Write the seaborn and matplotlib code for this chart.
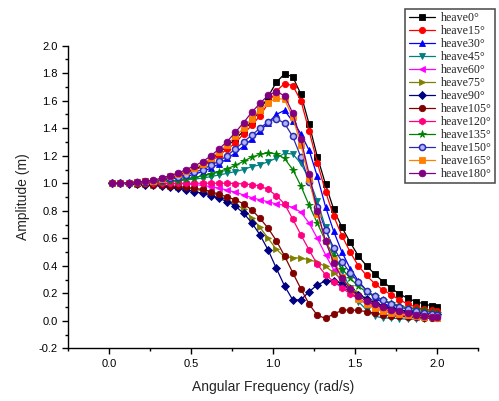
import matplotlib
matplotlib.use('Agg')
import matplotlib.pyplot as plt
from matplotlib.ticker import MultipleLocator, FormatStrFormatter
import numpy as np
import pandas as pd
import seaborn as sns

# frequency grid (rad/s)
freq = [0.02, 0.07, 0.12, 0.17, 0.22, 0.27, 0.32, 0.37, 0.42, 0.47,
        0.52, 0.57, 0.62, 0.67, 0.72, 0.77, 0.82, 0.87, 0.92, 0.97,
        1.02, 1.07, 1.12, 1.17, 1.22, 1.27, 1.32, 1.37, 1.42, 1.47,
        1.52, 1.57, 1.62, 1.67, 1.72, 1.77, 1.82, 1.87, 1.92, 1.97, 2.00]

heave0 = [1.0, 1.0, 1.004, 1.008, 1.013, 1.02, 1.03, 1.045, 1.06, 1.08,
          1.10, 1.13, 1.17, 1.22, 1.27, 1.32, 1.38, 1.45, 1.53, 1.63,
          1.734, 1.795, 1.775, 1.647, 1.43, 1.193, 0.993, 0.81, 0.68, 0.571,
          0.472, 0.40, 0.34, 0.285, 0.237, 0.196, 0.164, 0.14, 0.123, 0.108, 0.099]
heave15 = [1.0, 1.0, 1.003, 1.007, 1.012, 1.018, 1.027, 1.04, 1.055, 1.075,
           1.095, 1.12, 1.16, 1.20, 1.25, 1.29, 1.36, 1.42, 1.49, 1.58,
           1.67, 1.725, 1.71, 1.60, 1.38, 1.15, 0.94, 0.76, 0.62, 0.50,
           0.40, 0.33, 0.27, 0.225, 0.19, 0.153, 0.123, 0.10, 0.084, 0.075, 0.07]
heave30 = [1.0, 1.0, 1.002, 1.005, 1.008, 1.013, 1.02, 1.03, 1.04, 1.05,
           1.065, 1.085, 1.11, 1.14, 1.18, 1.22, 1.27, 1.32, 1.38, 1.44,
           1.50, 1.53, 1.45, 1.36, 1.24, 1.05, 0.83, 0.65, 0.50, 0.38,
           0.29, 0.22, 0.17, 0.13, 0.10, 0.08, 0.065, 0.055, 0.045, 0.04, 0.035]
heave45 = [1.0, 1.0, 1.0, 1.002, 1.004, 1.007, 1.01, 1.014, 1.018, 1.024,
           1.03, 1.038, 1.048, 1.06, 1.072, 1.085, 1.10, 1.121, 1.134, 1.157,
           1.182, 1.218, 1.213, 1.145, 1.03, 0.87, 0.68, 0.50, 0.36, 0.24,
           0.14, 0.08, 0.035, 0.02, 0.02, 0.015, 0.012, 0.012, 0.015, 0.02, 0.022]
heave60 = [1.0, 1.0, 1.0, 1.0, 1.0, 0.999, 0.998, 0.997, 0.996, 0.995,
           0.99, 0.985, 0.975, 0.965, 0.95, 0.935, 0.915, 0.895, 0.88, 0.865,
           0.85, 0.84, 0.825, 0.79, 0.71, 0.60, 0.48, 0.37, 0.28, 0.21,
           0.16, 0.12, 0.09, 0.07, 0.055, 0.045, 0.035, 0.03, 0.025, 0.02, 0.02]
heave75 = [1.0, 1.0, 1.0, 0.998, 0.995, 0.99, 0.985, 0.978, 0.972, 0.965,
           0.957, 0.945, 0.93, 0.91, 0.88, 0.85, 0.81, 0.75, 0.68, 0.60,
           0.52, 0.465, 0.46, 0.455, 0.445, 0.425, 0.395, 0.35, 0.30, 0.25,
           0.20, 0.16, 0.13, 0.10, 0.08, 0.065, 0.05, 0.045, 0.04, 0.035, 0.03]
heave90 = [1.0, 1.0, 0.998, 0.995, 0.99, 0.985, 0.978, 0.972, 0.964, 0.952,
           0.94, 0.927, 0.908, 0.891, 0.867, 0.835, 0.782, 0.714, 0.625, 0.515,
           0.382, 0.254, 0.152, 0.152, 0.212, 0.261, 0.29, 0.29, 0.27, 0.23,
           0.19, 0.16, 0.13, 0.11, 0.09, 0.08, 0.07, 0.06, 0.055, 0.05, 0.048]
heave105 = [1.0, 1.0, 1.0, 0.998, 0.995, 0.99, 0.987, 0.982, 0.977, 0.97,
            0.963, 0.955, 0.94, 0.92, 0.90, 0.88, 0.85, 0.806, 0.746, 0.673,
            0.583, 0.472, 0.35, 0.232, 0.121, 0.04, 0.018, 0.05, 0.075, 0.08,
            0.075, 0.067, 0.056, 0.045, 0.038, 0.032, 0.028, 0.025, 0.022, 0.02, 0.02]
heave120 = [1.0, 1.0, 1.0, 1.0, 1.0, 1.0, 1.0, 1.0, 1.0, 1.0,
            1.0, 1.0, 1.0, 1.0, 1.0, 0.998, 0.995, 0.99, 0.98, 0.955,
            0.91, 0.85, 0.74, 0.625, 0.515, 0.41, 0.335, 0.285, 0.24, 0.195,
            0.16, 0.13, 0.105, 0.085, 0.07, 0.06, 0.05, 0.04, 0.035, 0.03, 0.03]
heave135 = [1.0, 1.0, 1.0, 1.002, 1.004, 1.007, 1.01, 1.015, 1.02, 1.03,
            1.04, 1.055, 1.07, 1.085, 1.105, 1.13, 1.16, 1.19, 1.21, 1.22,
            1.215, 1.18, 1.10, 0.98, 0.84, 0.71, 0.58, 0.47, 0.38, 0.31,
            0.25, 0.21, 0.18, 0.15, 0.13, 0.11, 0.095, 0.085, 0.075, 0.065, 0.06]
heave150 = [1.0, 1.0, 1.003, 1.006, 1.01, 1.016, 1.025, 1.035, 1.048, 1.062,
            1.08, 1.10, 1.13, 1.16, 1.20, 1.25, 1.30, 1.35, 1.40, 1.448,
            1.47, 1.436, 1.34, 1.19, 1.01, 0.83, 0.66, 0.53, 0.43, 0.35,
            0.28, 0.22, 0.18, 0.15, 0.12, 0.10, 0.085, 0.07, 0.06, 0.05, 0.045]
heave165 = [1.0, 1.0, 1.004, 1.008, 1.013, 1.02, 1.032, 1.05, 1.065, 1.09,
            1.11, 1.14, 1.18, 1.23, 1.28, 1.34, 1.40, 1.47, 1.53, 1.586,
            1.617, 1.61, 1.48, 1.28, 1.03, 0.78, 0.58, 0.44, 0.32, 0.23,
            0.16, 0.12, 0.09, 0.07, 0.06, 0.05, 0.04, 0.035, 0.03, 0.025, 0.02]
heave180 = [1.0, 1.0, 1.005, 1.01, 1.015, 1.024, 1.036, 1.056, 1.073, 1.10,
            1.125, 1.157, 1.198, 1.249, 1.303, 1.37, 1.44, 1.516, 1.58, 1.64,
            1.666, 1.637, 1.51, 1.32, 1.066, 0.80, 0.58, 0.42, 0.31, 0.23,
            0.18, 0.145, 0.12, 0.10, 0.08, 0.068, 0.056, 0.045, 0.036, 0.03, 0.027]

labels = ['heave0°', 'heave15°', 'heave30°', 'heave45°', 'heave60°', 'heave75°', 'heave90°',
          'heave105°', 'heave120°', 'heave135°', 'heave150°', 'heave165°', 'heave180°']
series = [heave0, heave15, heave30, heave45, heave60, heave75, heave90,
          heave105, heave120, heave135, heave150, heave165, heave180]

# cores e marcadores estilo Origin
cores = ['#000000', '#ff0000', '#0000ff', '#008080', '#ff00ff', '#808000', '#000080',
         '#800000', '#ff0080', '#008000', '#2b2bb0', '#ff8000', '#800080']
marcadores = ['s', 'o', '^', 'v', '<', '>', 'D', 'o', 'h', '*', 'o', 's', 'o']
tamanhos = [4.0, 4.5, 4.6, 4.6, 4.6, 4.6, 3.8, 4.6, 4.8, 5.5, 4.4, 4.2, 4.8]

sns.set_style('ticks')
plt.rcParams['font.family'] = ['Liberation Sans', 'DejaVu Sans']

fig = plt.figure(figsize=(4.99, 4.01), dpi=100)
ax = fig.add_axes([0.1363, 0.1314, 0.8217, 0.7546])

for lab, ys, c, m, ms in zip(labels, series, cores, marcadores, tamanhos):
    df = pd.DataFrame({'w': freq, 'amp': ys})
    mfc = '#b0b4ff' if lab == 'heave150°' else c
    sns.lineplot(data=df, x='w', y='amp', ax=ax, color=c, marker=m, markersize=ms,
                 markerfacecolor=mfc, markeredgecolor=c, markeredgewidth=1.1 if lab == 'heave150°' else 0.6,
                 linewidth=0.9, label=lab)

ax.set_xlim(-0.25, 2.25)
ax.set_ylim(-0.2, 2.0)
ax.xaxis.set_major_locator(MultipleLocator(0.5))
ax.xaxis.set_minor_locator(MultipleLocator(0.25))
ax.yaxis.set_major_locator(MultipleLocator(0.2))
ax.yaxis.set_minor_locator(MultipleLocator(0.1))
ax.xaxis.set_major_formatter(FormatStrFormatter('%.1f'))
ax.yaxis.set_major_formatter(FormatStrFormatter('%.1f'))
ax.tick_params(which='major', direction='out', length=4, width=1, labelsize=8, colors='black')
ax.tick_params(which='minor', direction='out', length=2.5, width=1, colors='black')
for s in ['top', 'right']:
    ax.spines[s].set_visible(False)
for s in ['left', 'bottom']:
    ax.spines[s].set_linewidth(1.0)
    ax.spines[s].set_color('black')

ax.set_xlabel('Angular Frequency (rad/s)', fontsize=10, labelpad=8)
ax.set_ylabel('Amplitude (m)', fontsize=10, labelpad=6)

leg = ax.legend(loc='upper left', bbox_to_anchor=(0.812, 0.978), bbox_transform=fig.transFigure,
                prop={'family': 'Liberation Serif', 'size': 8.6}, frameon=True, fancybox=False,
                framealpha=1, edgecolor='#555555', handlelength=2.2, handletextpad=0.5,
                labelspacing=0.08, borderpad=0.3, borderaxespad=0)
leg.get_frame().set_linewidth(1.2)

fig.savefig('out.png', dpi=100)
